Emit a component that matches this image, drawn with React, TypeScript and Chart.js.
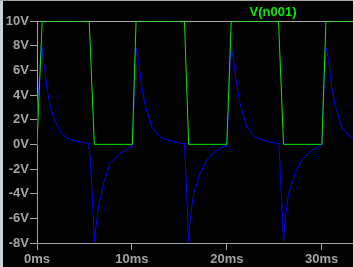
import React, { useEffect, useRef } from "react";
import { Chart, registerables } from "chart.js";

Chart.register(...registerables);

const traceName = "V(n001)";
const xTicks = [0, 10, 20, 30];
const yTicks = [-8, -6, -4, -2, 0, 2, 4, 6, 8, 10];

// green trace: time (ms) / volts
const greenTimes = [0, 0.55, 5.5, 6.04, 10.05, 10.44, 15.54, 15.98, 20.0, 20.47, 25.45, 25.98, 30.02, 30.45, 34];
const greenVolts = [0, 10, 10, 0, 0, 10, 10, 0, 0, 10, 10, 0, 0, 10, 10];

// blue trace: time (ms) / volts
const blueTimes = [
  0, 0.05, 0.18, 0.28, 0.39, 0.53, 0.67, 0.84, 1.09, 1.37, 1.72, 2.25, 2.78, 3.48, 4.54, 5.43,
  5.59, 5.77, 5.94, 6.04, 6.3, 6.54, 7.0, 7.7, 8.76, 9.81, 10.05,
  10.15, 10.25, 10.35, 10.45, 10.69, 11.04, 11.39, 12.1, 12.97, 14.0, 15.0, 15.55,
  15.7, 15.85, 15.96, 16.14, 16.5, 17.2, 17.9, 18.96, 19.83, 20.03,
  20.13, 20.23, 20.35, 20.5, 20.72, 21.07, 21.42, 22.12, 23.0, 24.0, 25.0, 25.5,
  25.65, 25.85, 25.98, 26.15, 26.5, 27.2, 27.9, 29.0, 29.85, 30.03,
  30.13, 30.23, 30.35, 30.5, 30.72, 31.05, 31.4, 32.1, 33.0, 33.5,
];
const blueVolts = [
  0, 2.5, 4.7, 6.0, 7.2, 7.9, 6.7, 6.0, 4.3, 3.2, 2.2, 1.3, 0.75, 0.4, 0.2, 0.06,
  -1.0, -3.4, -5.9, -7.9, -6.1, -4.8, -3.2, -1.54, -0.73, -0.24, -0.2,
  2.0, 4.5, 6.5, 7.8, 6.8, 4.7, 3.2, 1.4, 0.6, 0.3, 0.12, 0.05,
  -2.5, -5.5, -7.9, -6.1, -4.0, -2.35, -1.27, -0.46, -0.14, -0.12,
  2.2, 4.6, 6.6, 7.8, 6.8, 4.7, 3.2, 1.4, 0.6, 0.3, 0.12, 0.05,
  -2.5, -5.5, -7.9, -6.1, -4.0, -2.35, -1.27, -0.46, -0.14, -0.12,
  2.2, 4.6, 6.6, 7.8, 6.8, 4.7, 3.2, 1.4, 0.6, 0.45,
];

const AXIS = "#a4a4a4";
const FONT = { family: '"Liberation Sans", Arial, sans-serif', size: 13, weight: "bold" as const };

const zip = (xs: number[], ys: number[]) => xs.map((x, i) => ({ x, y: ys[i] }));

const framePlugin = {
  id: "frame",
  beforeDraw(chart: any) {
    const { ctx, width, height } = chart;
    ctx.save();
    ctx.fillStyle = "#000000";
    ctx.fillRect(0, 0, width, height);
    ctx.fillStyle = "#c8d0d8";
    ctx.fillRect(0, 0, 3, height);
    ctx.fillStyle = "#a8a8a8";
    ctx.fillRect(0, 0, width, 1);
    ctx.restore();
  },
  beforeDatasetsDraw(chart: any) {
    const { ctx, chartArea } = chart;
    ctx.save();
    ctx.strokeStyle = AXIS;
    ctx.lineWidth = 1;
    ctx.beginPath();
    ctx.moveTo(chartArea.left, Math.round(chartArea.top) + 0.5);
    ctx.lineTo(chartArea.right, Math.round(chartArea.top) + 0.5);
    ctx.stroke();
    ctx.restore();
  },
  afterDraw(chart: any) {
    const { ctx } = chart;
    ctx.save();
    ctx.fillStyle = "#00f000";
    ctx.font = 'bold 13px "Liberation Sans", Arial, sans-serif';
    ctx.textAlign = "center";
    ctx.textBaseline = "alphabetic";
    ctx.fillText(traceName, 273, 16);
    ctx.restore();
  },
};

export default function App() {
  const ref = useRef<HTMLCanvasElement | null>(null);
  useEffect(() => {
    document.body.style.margin = "0";
    document.body.style.background = "#000";
    const canvas = ref.current!;
    const chart = new Chart(canvas, {
      type: "line",
      data: {
        datasets: [
          {
            label: traceName,
            data: zip(greenTimes, greenVolts),
            borderColor: "#00f000",
            borderWidth: 1,
            pointRadius: 0,
            tension: 0,
          },
          {
            label: "blue",
            data: zip(blueTimes, blueVolts),
            borderColor: "#0000ff",
            borderWidth: 1,
            pointRadius: 0,
            tension: 0,
          },
        ],
      },
      options: {
        animation: false,
        responsive: false,
        devicePixelRatio: 1,
        layout: { padding: { top: 21, left: 0, right: 0, bottom: 0 } },
        plugins: { legend: { display: false }, tooltip: { enabled: false }, title: { display: false } },
        scales: {
          x: {
            type: "linear",
            min: 0,
            max: 33.3,
            afterBuildTicks: (s: any) => {
              s.ticks = xTicks.map((v) => ({ value: v }));
            },
            afterFit: (s: any) => {
              s.height = 24;
            },
            ticks: {
              color: AXIS,
              font: FONT,
              padding: 2,
              maxRotation: 0,
              autoSkip: false,
              callback: (v: any) => `${v}ms`,
            },
            grid: { drawOnChartArea: false, drawTicks: true, tickLength: 7, color: AXIS },
            border: { display: true, color: AXIS, width: 1 },
          },
          y: {
            type: "linear",
            min: -8,
            max: 10,
            afterBuildTicks: (s: any) => {
              s.ticks = yTicks.map((v) => ({ value: v }));
            },
            afterFit: (s: any) => {
              s.width = 37;
            },
            ticks: {
              color: AXIS,
              font: FONT,
              padding: 1,
              autoSkip: false,
              callback: (v: any) => `${v}V`,
            },
            grid: { drawOnChartArea: false, drawTicks: true, tickLength: 7, color: AXIS },
            border: { display: true, color: AXIS, width: 1 },
          },
        },
      },
      plugins: [framePlugin],
    });
    return () => chart.destroy();
  }, []);
  return (
    <div style={{ width: 353, height: 267, overflow: "hidden" }}>
      <canvas ref={ref} width={353} height={267} style={{ display: "block", width: 353, height: 267 }} />
    </div>
  );
}
